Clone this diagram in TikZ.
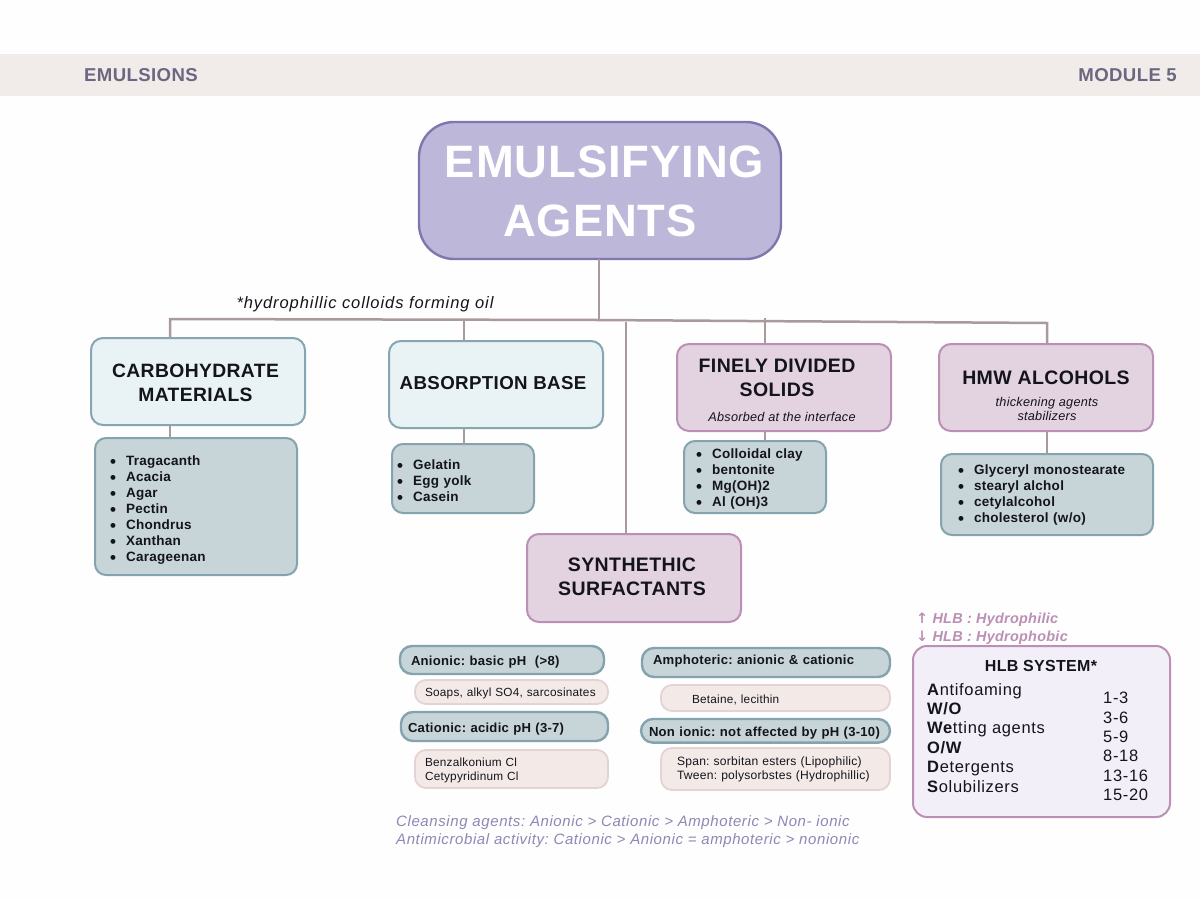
\documentclass[tikz,border=0pt]{standalone}
\usepackage{fontspec}
\setmainfont{Liberation Sans}[LetterSpace=2]
\newfontfamily\arrowfont{DejaVu Sans}
\AtBeginDocument{\frenchspacing}
\definecolor{bgc}{HTML}{FEFEFE}
\definecolor{bandc}{HTML}{F1ECE9}
\definecolor{bandt}{HTML}{6B6780}
\definecolor{titlef}{HTML}{BDB7DA}
\definecolor{titled}{HTML}{7F77AE}
\definecolor{linec}{HTML}{A99A9C}
\definecolor{bluef}{HTML}{E9F2F5}
\definecolor{blued}{HTML}{86A6B2}
\definecolor{pinkf}{HTML}{E3D2E0}
\definecolor{pinkd}{HTML}{BC8FB4}
\definecolor{listf}{HTML}{C7D5D9}
\definecolor{listd}{HTML}{84A3AD}
\definecolor{subf}{HTML}{F3EAE8}
\definecolor{subd}{HTML}{E3D3D2}
\definecolor{hlbf}{HTML}{F3EFF9}
\definecolor{notec}{HTML}{8D88B5}
\definecolor{inkc}{HTML}{14141C}
\newcommand{\bul}[2][16pt]{\mbox{\makebox[#1][l]{\raisebox{-2.2pt}{\fontsize{17}{16}\selectfont\textbullet}}#2}}
% vertical nudge: height and depth of an invisible strut on a line
\newcommand{\nudge}[2]{\rule[-#2pt]{0pt}{\dimexpr #1pt+#2pt\relax}}
\tikzset{
  x=1pt,y=-1pt,
  sized/.style n args={2}{anchor=north west,outer sep=0pt,minimum width=#1 pt,minimum height=#2 pt},
  inset/.style n args={2}{inner xsep=#2 pt,text width=#1 pt-2*#2 pt,align=left},
  bluebox/.style={draw=blued,fill=bluef,line width=2pt,rounded corners=12pt},
  pinkbox/.style={draw=pinkd,fill=pinkf,line width=2pt,rounded corners=12pt},
  listbox/.style={draw=listd,fill=listf,line width=2pt,rounded corners=11pt,text=inkc,font=\fontsize{13.5}{16}\selectfont\bfseries},
  pillbox/.style={draw=listd,fill=listf,line width=2.4pt,rounded corners=12pt,text=inkc,font=\fontsize{13.1}{16}\selectfont\bfseries},
  subbox/.style={draw=subd,fill=subf,line width=1.8pt,rounded corners=11pt,text=inkc,font=\fontsize{11.8}{14}\selectfont},
  head/.style={align=center,inner sep=0pt,text=inkc,font=\fontsize{19.5}{24}\selectfont\bfseries},
  subhead/.style={align=center,inner sep=0pt,text=inkc,font=\fontsize{12.7}{14}\selectfont\itshape},
  conn/.style={draw=linec,line width=2.5pt},
  plain/.style={inner sep=0pt,align=left,anchor=north west},
}
\begin{document}
\begin{tikzpicture}
\useasboundingbox (0,0) rectangle (1200,900);
\fill[bgc] (0,0) rectangle (1200,900);
\fill[bandc] (0,54) rectangle (1200,96);
\node[anchor=west,inner sep=0pt,text=bandt,font=\fontsize{18.6}{20}\selectfont\bfseries] (modname) at (84,75) {EMULSIONS};
\node[anchor=east,inner sep=0pt,text=bandt,font=\fontsize{18.6}{20}\selectfont\bfseries] (modnum) at (1177,75) {MODULE 5};

% coordinates of the tree
\coordinate (jt) at (599,320);
\coordinate (ja) at (170,319);
\coordinate (jb) at (464,320);
\coordinate (jc) at (626,322);
\coordinate (jd) at (765,318);
\coordinate (je) at (1047,323);

\node[sized={362}{137},draw=titled,fill=titlef,line width=2.4pt,rounded corners=35pt,align=center,text=white,font=\fontsize{45.4}{59}\selectfont\bfseries] (title) at (419,122) {\hspace*{9pt}\nudge{34}{0}EMULSIFYING\\AGENTS};

\node[sized={214}{87},bluebox] (carb) at (91,338) {};
\node[sized={214}{87},bluebox] (abso) at (389,341) {};
\node[sized={214}{87},pinkbox] (fine) at (677,344) {};
\node[sized={214}{87},pinkbox] (hmw) at (939,344) {};
\node[sized={214}{88},pinkbox] (syn) at (527,534) {};

\node[sized={202}{137},listbox,inset={202}{15}] (carbl) at (95,438) {\nudge{16}{0}\bul{Tragacanth}\\\bul{Acacia}\\\bul{Agar}\\\bul{Pectin}\\\bul{Chondrus}\\\bul{Xanthan}\\\bul{Carageenan}};
\node[sized={142}{69},listbox,inset={142}{5}] (absol) at (392,444) {\nudge{16}{0}\bul{Gelatin}\\\bul{Egg yolk}\\\bul{Casein}};
\node[sized={142}{72},listbox,inset={142}{12}] (finel) at (684,441) {\nudge{14}{0}\bul{Colloidal clay}\\\bul{bentonite}\\\bul{Mg(OH)2}\\\bul{Al (OH)3}};
\node[sized={212}{81},listbox,inset={212}{17}] (hmwl) at (941,454) {\nudge{10}{0}\bul{Glyceryl monostearate}\\\bul{stearyl alchol}\\\bul{cetylalcohol}\\\bul{cholesterol (w/o)}};

\draw[conn] (title.south -| jt) -- (jt);
\draw[conn] (carb.north -| ja) -- (ja) -- (jt) -- (je) -- (hmw.north -| je);
\draw[conn] (jb) -- (abso.north -| jb);
\draw[conn] (jc) -- (syn.north -| jc);
\draw[conn] (jd) -- (fine.north -| jd);
\draw[conn] (carb.south -| ja) -- (carbl.north -| ja);
\draw[conn] (abso.south -| jb) -- (absol.north -| jb);
\draw[conn] (fine.south -| jd) -- (finel.north -| jd);
\draw[conn] (hmw.south -| je) -- (hmwl.north -| je);

\node[inner sep=0pt,text=inkc,font=\fontsize{16.5}{18}\selectfont\itshape\addfontfeature{LetterSpace=5.6}] (colnote) at (365,304) {*hydrophillic colloids forming oil};

\node[head,font=\fontsize{19.3}{24}\selectfont\bfseries] (carbt) at (195.5,383) {CARBOHYDRATE\\MATERIALS};
\node[head,font=\fontsize{18.7}{24}\selectfont\bfseries] (absot) at (493,383) {ABSORPTION BASE};
\node[head] (finet) at (777,378) {FINELY DIVIDED\\SOLIDS};
\node[subhead] (fines) at (782,417) {Absorbed at the interface};
\node[head] (hmwt) at (1046,378) {HMW ALCOHOLS};
\node[subhead] (hmws) at (1047,409) {thickening agents\\stabilizers};
\node[head] (synt) at (632,577) {SYNTHETHIC\\SURFACTANTS};

\node[sized={204}{28},pillbox,inset={204}{11}] (anion) at (400,646) {\nudge{14}{3}Anionic: basic pH~~(>8)};
\node[sized={193}{24},subbox,inset={193}{10}] (anionx) at (415,680) {\nudge{11}{3}Soaps, alkyl SO4, sarcosinates};
\node[sized={207}{29},pillbox,inset={207}{7}] (cation) at (401,712) {\nudge{15}{3}Cationic: acidic pH (3-7)};
\node[sized={193}{38},subbox,inset={193}{10}] (cationx) at (415,750) {\nudge{11}{0}Benzalkonium Cl\\Cetypyridinum Cl};
\node[sized={248}{29},pillbox,inset={248}{11}] (ampho) at (642,648) {\nudge{10}{6}Amphoteric: anionic \& cationic};
\node[sized={229}{26},subbox,inset={229}{31}] (amphox) at (661,685) {\nudge{13}{3}Betaine, lecithin};
\node[sized={249}{21},pillbox,inset={249}{8}] (nonion) at (641,719) {\mbox{\nudge{14}{3}Non ionic: not affected by pH (3-10)}};
\node[sized={229}{42},subbox,inset={229}{16},font=\fontsize{12.1}{14}\selectfont] (nonionx) at (661,748) {Span: sorbitan esters (Lipophilic)\\Tween: polysorbstes (Hydrophillic)};

\node[plain,text=notec,font=\fontsize{15}{17.5}\selectfont\itshape\addfontfeature{LetterSpace=4}] (cmp) at (396,815.5) {Cleansing agents: Anionic > Cationic > Amphoteric > Non- ionic\\Antimicrobial activity: Cationic > Anionic = amphoteric > nonionic};

\node[plain,text=pinkd,font=\fontsize{14.4}{18}\selectfont\bfseries\itshape] (hlbn) at (916,612.5) {{\arrowfont\upshape\bfseries↑} HLB : Hydrophilic\\{\arrowfont\upshape\bfseries↓} HLB : Hydrophobic};

\node[sized={257}{171},draw=pinkd,fill=hlbf,line width=2pt,rounded corners=14pt] (hlb) at (913,646) {};
\node[inner sep=0pt,text=inkc,font=\fontsize{16}{18}\selectfont\bfseries] (hlbt) at (1041,666) {HLB SYSTEM*};
\node[plain,text=inkc,font=\fontsize{16.5}{19.4}\selectfont\addfontfeature{LetterSpace=4}] (hlbl) at (927,683) {\textbf{A}ntifoaming\\\textbf{W/O}\\\textbf{We}tting agents\\\textbf{O/W}\\\textbf{D}etergents\\\textbf{S}olubilizers};
\node[plain,text=inkc,font=\fontsize{16.5}{19.4}\selectfont\addfontfeature{LetterSpace=4}] (hlbr) at (1103,692) {1-3\\3-6\\5-9\\8-18\\13-16\\15-20};
\end{tikzpicture}
\end{document}
